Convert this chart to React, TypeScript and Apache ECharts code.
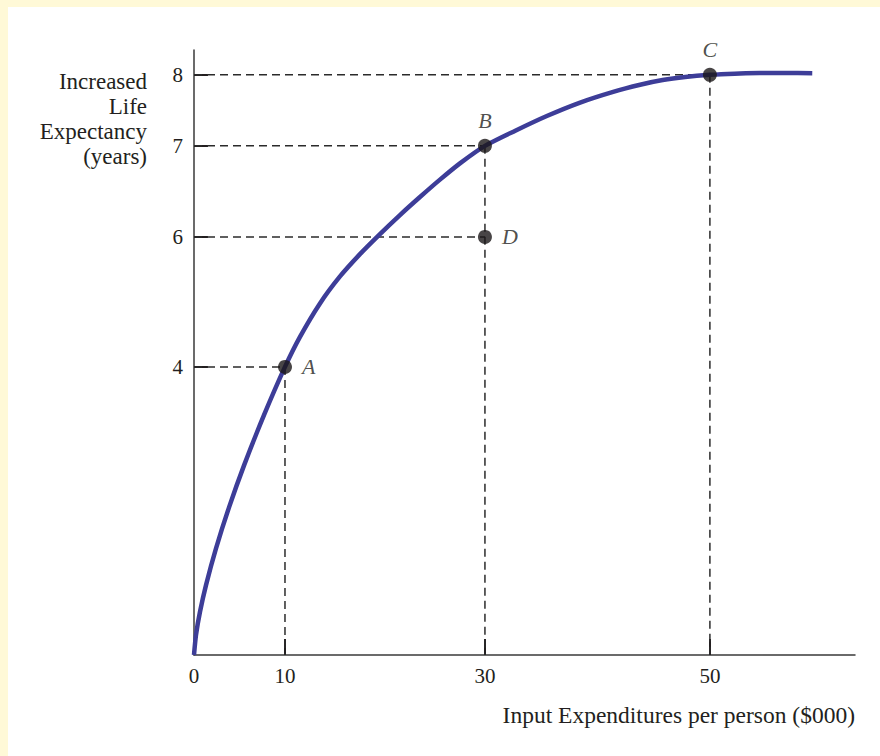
import React, { useEffect, useRef } from "react";
import * as echarts from "echarts";

// ---- data ----
const curveX = [0, 0.22, 0.66, 1.32, 2.42, 3.85, 5.49, 7.69, 10, 11.5, 13.5, 15.5, 17.5, 19.5, 21.5, 23.5, 25.5, 27.5, 30, 32.7, 35.5, 38.4, 41.4, 43.8, 45.8, 47.8, 50, 52.2, 54.4, 56.7, 59.1];
const curveY = [0, 0.28, 0.6, 0.97, 1.48, 2.05, 2.63, 3.33, 4, 4.462, 4.977, 5.392, 5.735, 6.031, 6.24, 6.438, 6.629, 6.808, 7, 7.214, 7.421, 7.607, 7.761, 7.861, 7.927, 7.97, 8, 8.017, 8.025, 8.027, 8.023];

const pointNames = ["A", "B", "C", "D"];
const pointX = [10, 30, 50, 30];
const pointY = [4, 7, 8, 6];

const xTickLabels = [0, 10, 30, 50];
const yTickLabels = [4, 6, 7, 8];

const xAxisTitle = "Input Expenditures per person ($000)";
const yAxisTitle = "Increased\nLife\nExpectancy\n(years)";

// ---- axis scale (the figure is not drawn to a linear scale) ----
const xScaleKnots = [0, 10, 30, 50];
const xScaleAt = [0, 91, 291, 516];
const yScaleKnots = [0, 4, 6, 7, 8];
const yScaleAt = [0, 288, 418, 509, 580];
const xAxisEnd = 62.9;
const yAxisEnd = 8.35;

function warp(v: number, knots: number[], at: number[]) {
  const n = knots.length;
  let i = 0;
  while (i < n - 2 && v > knots[i + 1]) i++;
  const t = (v - knots[i]) / (knots[i + 1] - knots[i]);
  return at[i] + t * (at[i + 1] - at[i]);
}
function unwarp(p: number, knots: number[], at: number[]) {
  return warp(p, at, knots);
}
const wx = (v: number) => warp(v, xScaleKnots, xScaleAt);
const wy = (v: number) => warp(v, yScaleKnots, yScaleAt);

const labelPlacement: Record<string, string> = { A: "right", B: "top", C: "top", D: "right" };

const serif = "'Liberation Serif', 'Times New Roman', serif";
const ink = "#231f20";

export default function App() {
  const ref = useRef<HTMLDivElement>(null);
  useEffect(() => {
    if (!ref.current) return;
    const chart = echarts.init(ref.current, undefined, { renderer: "svg" });

    const dash = { color: "#2b2b2b", width: 1.5, type: [8, 5] };
    const guideSeries: any[] = [];
    pointNames.forEach((_, i) => {
      guideSeries.push({
        type: "line",
        silent: true,
        symbol: "none",
        z: 1,
        lineStyle: dash,
        data: [
          [wx(0), wy(pointY[i])],
          [wx(pointX[i]), wy(pointY[i])],
        ],
      });
      const covered = pointX.some((x, j) => j !== i && x === pointX[i] && pointY[j] > pointY[i]);
      if (!covered) {
        guideSeries.push({
          type: "line",
          silent: true,
          symbol: "none",
          z: 1,
          lineStyle: dash,
          data: [
            [wx(pointX[i]), wy(pointY[i])],
            [wx(pointX[i]), wy(0)],
          ],
        });
      }
    });

    const option: any = {
      animation: false,
      grid: { left: 194, top: 50, right: 25, bottom: 101, containLabel: false },
      xAxis: {
        type: "value",
        min: 0,
        max: wx(xAxisEnd),
        splitLine: { show: false },
        axisLine: { lineStyle: { color: "#3a3a3a", width: 1.5 } },
        axisTick: {
          inside: true,
          length: 16,
          customValues: xTickLabels.filter((v) => v !== 0).map(wx),
          lineStyle: { color: ink, width: 2 },
        },
        axisLabel: {
          customValues: xTickLabels.map(wx),
          formatter: (v: number) => String(Math.round(unwarp(v, xScaleKnots, xScaleAt))),
          margin: 10,
          fontSize: 21,
          fontFamily: serif,
          color: ink,
        },
      },
      yAxis: {
        type: "value",
        min: 0,
        max: wy(yAxisEnd),
        splitLine: { show: false },
        axisLine: { lineStyle: { color: "#3a3a3a", width: 1.5 } },
        axisTick: {
          inside: true,
          length: 14,
          customValues: yTickLabels.map(wy),
          lineStyle: { color: ink, width: 2 },
        },
        axisLabel: {
          customValues: yTickLabels.map(wy),
          formatter: (v: number) => String(Math.round(unwarp(v, yScaleKnots, yScaleAt))),
          margin: 11,
          fontSize: 21,
          fontFamily: serif,
          color: ink,
        },
      },
      series: [
        ...guideSeries,
        {
          type: "line",
          name: "curve",
          smooth: 0.25,
          symbol: "none",
          silent: true,
          z: 2,
          lineStyle: { color: "#3d3d98", width: 4.5 },
          data: curveX.map((x, i) => [wx(x), wy(curveY[i])]),
        },
        {
          type: "scatter",
          z: 3,
          symbol: "circle",
          symbolSize: 14,
          itemStyle: { color: "#1a1718" },
          data: pointNames.map((n, i) => ({
            name: n,
            value: [wx(pointX[i]), wy(pointY[i])],
            label: {
              show: true,
              position: labelPlacement[n],
              distance: labelPlacement[n] === "top" ? 7 : 10,
              formatter: "{b}",
              fontFamily: serif,
              fontStyle: "italic",
              fontSize: 22,
              color: ink,
            },
          })),
        },
      ],
      graphic: [
        {
          type: "text",
          x: 147,
          y: 119,
          style: {
            text: yAxisTitle,
            align: "right",
            verticalAlign: "middle",
            lineHeight: 25,
            fontSize: 23,
            fontFamily: serif,
            fill: ink,
          },
        },
        {
          type: "text",
          x: 855,
          y: 715,
          style: {
            text: xAxisTitle,
            align: "right",
            verticalAlign: "middle",
            fontSize: 23.5,
            fontFamily: serif,
            fill: ink,
          },
        },
      ],
    };
    chart.setOption(option);
    return () => chart.dispose();
  }, []);

  return (
    <div style={{ position: "absolute", left: 0, top: 0, width: 880, height: 756, background: "#FFF9D7" }}>
      <div style={{ position: "absolute", left: 8, top: 7, right: 0, bottom: 0, background: "#ffffff" }} />
      <div ref={ref} style={{ position: "absolute", left: 0, top: 0, width: 880, height: 756 }} />
    </div>
  );
}
